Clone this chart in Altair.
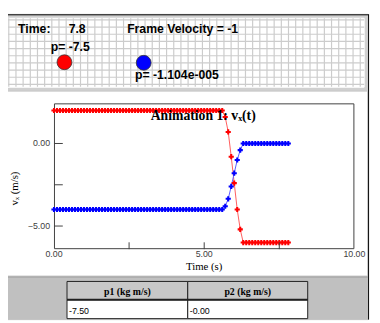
import altair as alt
import pandas as pd

# ---------------- data ----------------
time_s = [round(0.1 * i, 1) for i in range(79)]            # 0.0 ... 7.8 s
v1 = [2.0] * 57 + [1.6, 0.7, -0.8, -2.4, -4.0, -5.2] + [-6.0] * 16
v2 = [-4.0] * 57 + [-3.8, -3.35, -2.6, -1.8, -1.0, -0.4] + [0.0] * 16
series = ["p1", "p2"]
point_colors = ["#ff0000", "#0000ff"]
line_colors = ["#ff5c5c", "#5c5cff"]

x_label_values = [0, 5, 10]
y_label_values = [0, -5]
x_tick_values = [2.5, 5.0, 7.5]
y_tick_values = [0.0, -2.5, -5.0]
plot_title = "Animation 1: vₓ(t)"
x_title = "Time (s)"
y_title = "vₓ (m/s)"

header_texts = ["Time:", "7.8", "Frame Velocity = -1"]
header_x = [1.3, 8.35, 16.5]          # grid cells of the animation panel
header_y = [1.81, 1.81, 1.81]
ball_x = [7.76, 18.81]
ball_y = [5.9, 5.98]
ball_text = ["p= -7.5", "p= -1.104e-005"]
ball_text_x = [5.85, 17.6]
ball_text_y = [4.4, 8.23]

table_headers = ["p1 (kg m/s)", "p2 (kg m/s)"]
table_values = ["-7.50", "-0.00"]

# ---------------- layout (page pixels) ----------------
OX, OY = 55, 102          # plot-area origin on the page
W, H = 307, 149


def vx(px):
    return px - OX


def vy(py):
    return py - OY


NONE_X = dict(scale=None, axis=None)

# ---- panels / frame ----
frame_rects = pd.DataFrame([
    dict(x=vx(4), x2=vx(376), y=vy(11), y2=vy(89), fill="#d0d0d0", stroke="#d0d0d0"),
    dict(x=vx(8), x2=vx(372), y=vy(15), y2=vy(85.5), fill="#ffffff", stroke="#ffffff"),
    dict(x=vx(4.5), x2=vx(375.5), y=vy(89.5), y2=vy(278.5), fill="#ffffff", stroke="#c4c4c4"),
    dict(x=vx(4), x2=vx(376), y=vy(279), y2=vy(323), fill="#c0c0c0", stroke="#c0c0c0"),
])
panels = alt.Chart(frame_rects).mark_rect(strokeWidth=1).encode(
    x=alt.X("x:Q", **NONE_X), x2="x2:Q",
    y=alt.Y("y:Q", **NONE_X), y2="y2:Q",
    fill=alt.Fill("fill:N", scale=None),
    stroke=alt.Stroke("stroke:N", scale=None),
)
frame_lines = pd.DataFrame([
    dict(x=vx(4), x2=vx(376.5), y=vy(11.5), y2=vy(11.5), c="#000000"),
    dict(x=vx(376.5), x2=vx(376.5), y=vy(11), y2=vy(323), c="#000000"),
    dict(x=vx(4), x2=vx(376), y=vy(279.5), y2=vy(279.5), c="#a0a0a0"),
])
lines_frame = alt.Chart(frame_lines).mark_rule(strokeWidth=1).encode(
    x=alt.X("x:Q", **NONE_X), x2="x2:Q",
    y=alt.Y("y:Q", **NONE_X), y2="y2:Q",
    color=alt.Color("c:N", scale=None),
)
plot_border = alt.Chart(pd.DataFrame({"a": [0]})).mark_rect(
    fillOpacity=0, stroke="#404040", strokeWidth=1
).encode(x=alt.value(0.5), x2=alt.value(W - 0.5), y=alt.value(0.5), y2=alt.value(H - 0.5))
frame_group = alt.layer(panels, lines_frame, plot_border)

# ---- animation panel (grid units) ----
CELL = 7.33
gxs = alt.Scale(domain=[0, 50], range=[vx(8.8), vx(8.8 + CELL * 50)], nice=False, zero=False)
gys = alt.Scale(domain=[0, 10], range=[vy(16.7), vy(16.7 + CELL * 10)], nice=False, zero=False)

vgrid = pd.DataFrame({"gx": list(range(50)), "y0": -0.23, "y1": 9.32})
hgrid = pd.DataFrame({"gy": list(range(10)), "x0": -1.2, "x1": 49.55})
grid_v = alt.Chart(vgrid).mark_rule(color="#cccccc", strokeWidth=1.2).encode(
    x=alt.X("gx:Q", scale=gxs, axis=None),
    y=alt.Y("y0:Q", scale=gys, axis=None), y2="y1:Q",
)
grid_h = alt.Chart(hgrid).mark_rule(color="#cccccc", strokeWidth=1.2).encode(
    y=alt.Y("gy:Q", scale=gys, axis=None),
    x=alt.X("x0:Q", scale=gxs, axis=None), x2="x1:Q",
)
balls_df = pd.DataFrame({"gx": ball_x, "gy": ball_y, "s": series})
balls = alt.Chart(balls_df).mark_circle(size=230, opacity=1, stroke="#333333", strokeWidth=0.8).encode(
    x=alt.X("gx:Q", scale=gxs, axis=None),
    y=alt.Y("gy:Q", scale=gys, axis=None),
    fill=alt.Fill("s:N", scale=alt.Scale(domain=series, range=point_colors), legend=None),
)
txt_df = pd.DataFrame({
    "gx": header_x + ball_text_x,
    "gy": header_y + ball_text_y,
    "label": header_texts + ball_text,
})
top_text = alt.Chart(txt_df).mark_text(
    align="left", baseline="alphabetic", font="Liberation Sans",
    fontSize=12.5, fontWeight="bold", color="#000000",
).encode(
    x=alt.X("gx:Q", scale=gxs, axis=None),
    y=alt.Y("gy:Q", scale=gys, axis=None),
    text="label:N",
)
grid_group = alt.layer(grid_v, grid_h, balls, top_text)

# ---- v_x(t) plot ----
xs = alt.Scale(domain=[0, 10], nice=False, zero=False)
ys = alt.Scale(domain=[-6.4, 2.43], nice=False, zero=False)
df = pd.DataFrame({
    "t": time_s + time_s,
    "v": v1 + v2,
    "series": ["p1"] * len(time_s) + ["p2"] * len(time_s),
})
line = alt.Chart(df).mark_line(strokeWidth=1).encode(
    x=alt.X("t:Q", scale=xs, axis=None),
    y=alt.Y("v:Q", scale=ys, axis=None),
    stroke=alt.Stroke("series:N", scale=alt.Scale(domain=series, range=line_colors), legend=None),
)
pts = alt.Chart(df).mark_point(shape="cross", filled=True, size=28, opacity=1).encode(
    x=alt.X("t:Q", scale=xs, axis=None),
    y=alt.Y("v:Q", scale=ys, axis=None),
    fill=alt.Fill("series:N", scale=alt.Scale(domain=series, range=point_colors), legend=None),
)
ytk = alt.Chart(pd.DataFrame({"v": y_tick_values})).mark_rule(color="#404040").encode(
    y=alt.Y("v:Q", scale=ys, axis=None), x=alt.value(0), x2=alt.value(9),
)
xtk = alt.Chart(pd.DataFrame({"t": x_tick_values})).mark_rule(color="#404040").encode(
    x=alt.X("t:Q", scale=xs, axis=None), y=alt.value(H), y2=alt.value(H - 7),
)
xlab = alt.Chart(pd.DataFrame({"t": x_label_values})).mark_text(
    align="center", baseline="top", font="Liberation Sans", fontSize=9, color="#404040",
).encode(
    x=alt.X("t:Q", scale=xs, axis=None), y=alt.value(H + 1.5),
    text=alt.Text("t:Q", format=".2f"),
)
ylab = alt.Chart(pd.DataFrame({"v": y_label_values})).mark_text(
    align="right", baseline="middle", font="Liberation Sans", fontSize=9, color="#404040",
).encode(
    y=alt.Y("v:Q", scale=ys, axis=None), x=alt.value(-4),
    text=alt.Text("v:Q", format=".2f"),
)
xtitle = alt.Chart(pd.DataFrame({"label": [x_title]})).mark_text(
    align="center", baseline="alphabetic", font="Liberation Serif", fontSize=11, color="#000000",
).encode(x=alt.value(W / 2), y=alt.value(H + 21), text="label:N")
ytitle = alt.Chart(pd.DataFrame({"label": [y_title]})).mark_text(
    align="center", baseline="middle", font="Liberation Serif", fontSize=11, color="#000000",
    angle=270,
).encode(x=alt.value(-40), y=alt.value(87), text="label:N")
title_mark = alt.Chart(pd.DataFrame({"label": [plot_title]})).mark_text(
    align="center", baseline="alphabetic", font="Liberation Serif", fontSize=14,
    fontWeight="bold", color="#000000",
).encode(x=alt.value(W / 2 - 1), y=alt.value(17), text="label:N")
plot_group = alt.layer(line, pts, ytk, xtk, xlab, ylab, xtitle, ytitle, title_mark)

# ---- table ----
col_edges = [68.3, 191.7, 314.3]
row_edges = [284, 302.7, 322]
cells, htxt, vtxt = [], [], []
for i, (hd, val) in enumerate(zip(table_headers, table_values)):
    x0, x1 = col_edges[i], col_edges[i + 1]
    cells.append(dict(x=vx(x0), x2=vx(x1), y=vy(row_edges[0]), y2=vy(row_edges[1]), fill="#c8c8c8"))
    cells.append(dict(x=vx(x0), x2=vx(x1), y=vy(row_edges[1]), y2=vy(row_edges[2]), fill="#ffffff"))
    htxt.append(dict(x=vx((x0 + x1) / 2), y=vy(297.5), label=hd))
    vtxt.append(dict(x=vx(x0 + 2), y=vy(317), label=val))
cells_ch = alt.Chart(pd.DataFrame(cells)).mark_rect(stroke="#202020", strokeWidth=1).encode(
    x=alt.X("x:Q", **NONE_X), x2="x2:Q",
    y=alt.Y("y:Q", **NONE_X), y2="y2:Q",
    fill=alt.Fill("fill:N", scale=None),
)
hline = alt.Chart(pd.DataFrame({"a": [0]})).mark_rule(color="#202020", strokeWidth=2).encode(
    x=alt.value(vx(col_edges[0])), x2=alt.value(vx(col_edges[-1])),
    y=alt.value(vy(row_edges[1])),
)
head_ch = alt.Chart(pd.DataFrame(htxt)).mark_text(
    align="center", baseline="alphabetic", font="Liberation Serif", fontSize=10,
    fontWeight="bold", color="#000000",
).encode(x=alt.X("x:Q", **NONE_X), y=alt.Y("y:Q", **NONE_X), text="label:N")
val_ch = alt.Chart(pd.DataFrame(vtxt)).mark_text(
    align="left", baseline="alphabetic", font="Liberation Sans", fontSize=9, color="#000000",
).encode(x=alt.X("x:Q", **NONE_X), y=alt.Y("y:Q", **NONE_X), text="label:N")
table_group = alt.layer(cells_ch, hline, head_ch, val_ch)

chart = alt.layer(frame_group, grid_group, plot_group, table_group).resolve_scale(
    x="independent", y="independent", fill="independent", stroke="independent"
).properties(
    width=W, height=H,
    padding={"left": 47, "top": 94, "right": 18, "bottom": 72},
    autosize=alt.AutoSizeParams(type="none"),
    background="white",
).configure_view(stroke=None)

chart.save("out.html", embed_options={"renderer": "svg", "actions": False})
